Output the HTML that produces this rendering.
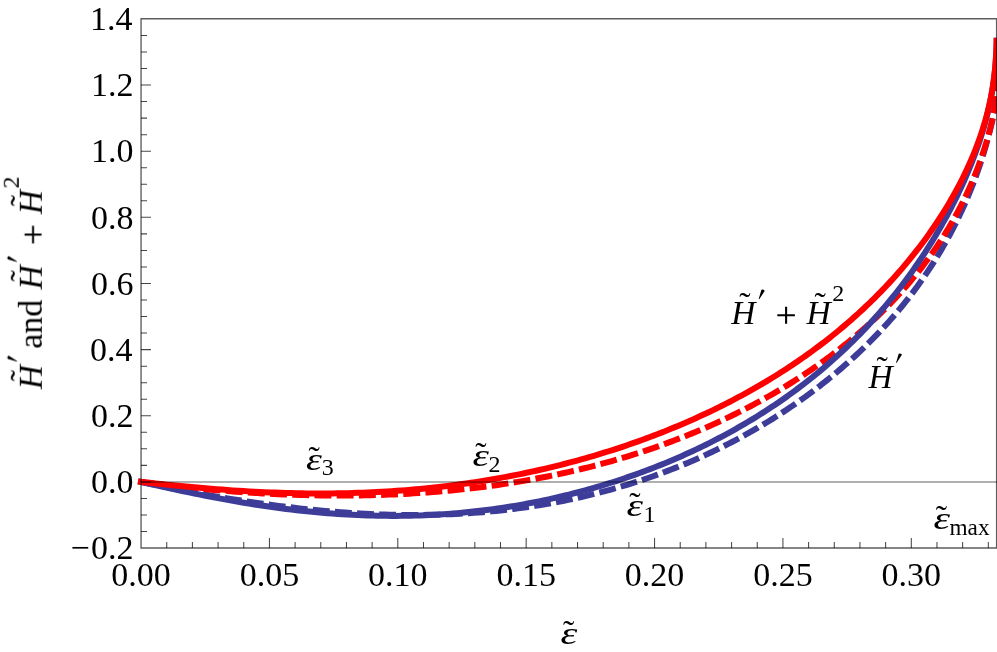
<!DOCTYPE html>
<html><head><meta charset="utf-8"><title>plot</title>
<style>
html,body{margin:0;padding:0;background:#fff;}
body{width:997px;height:652px;overflow:hidden;}
svg{display:block;}
text{font-family:"Liberation Serif",serif;fill:#000;}
.it{font-style:italic;}
</style></head><body>
<svg width="997" height="652" viewBox="0 0 997 652">
<rect x="0" y="0" width="997" height="652" fill="#fff"/>
<defs><clipPath id="cp"><rect x="137" y="18.7" width="860" height="529.25"/></clipPath><clipPath id="cs"><rect x="137" y="37.8" width="860" height="510.15000000000003"/></clipPath></defs>

<g clip-path="url(#cp)" fill="none" stroke-linejoin="round">
<path d="M141.00,481.88 L146.74,483.10 L152.45,484.30 L158.15,485.48 L163.83,486.64 L169.49,487.78 L175.13,488.90 L180.75,490.00 L186.35,491.07 L191.93,492.12 L197.50,493.15 L203.04,494.16 L208.57,495.14 L214.07,496.11 L219.56,497.05 L225.03,497.97 L230.47,498.86 L235.90,499.73 L241.31,500.58 L246.70,501.41 L252.07,502.21 L257.42,502.99 L262.76,503.74 L268.07,504.48 L273.37,505.18 L278.64,505.87 L283.90,506.53 L289.13,507.16 L294.35,507.77 L299.55,508.36 L304.73,508.92 L309.89,509.46 L315.03,509.97 L320.15,510.46 L325.25,510.93 L330.33,511.37 L335.40,511.78 L340.44,512.17 L345.47,512.53 L350.47,512.87 L355.46,513.19 L360.43,513.48 L365.38,513.74 L370.30,513.98 L375.21,514.19 L380.10,514.38 L384.98,514.55 L389.83,514.68 L394.66,514.80 L399.48,514.88 L404.27,514.94 L409.05,514.98 L413.80,514.99 L418.54,514.98 L423.26,514.94 L427.95,514.87 L432.63,514.78 L437.29,514.67 L441.93,514.53 L446.56,514.36 L451.16,514.17 L455.74,513.96 L460.31,513.72 L464.85,513.45 L469.38,513.17 L473.88,512.85 L478.37,512.51 L482.84,512.15 L487.29,511.76 L491.72,511.35 L496.13,510.91 L500.52,510.45 L504.89,509.96 L509.24,509.46 L513.58,508.92 L517.89,508.37 L522.18,507.78 L526.46,507.18 L530.72,506.55 L534.95,505.90 L539.17,505.23 L543.37,504.53 L547.55,503.81 L551.71,503.07 L555.85,502.30 L559.97,501.51 L564.08,500.70 L568.16,499.87 L572.22,499.01 L576.27,498.13 L580.30,497.24 L584.30,496.31 L588.29,495.37 L592.26,494.41 L596.21,493.42 L600.14,492.42 L604.05,491.39 L607.94,490.34 L611.81,489.27 L615.66,488.19 L619.50,487.08 L623.31,485.95 L627.11,484.80 L630.88,483.63 L634.64,482.44 L638.38,481.24 L642.10,480.01 L645.80,478.76 L649.48,477.50 L653.14,476.22 L656.78,474.92 L660.40,473.60 L664.00,472.26 L667.59,470.90 L671.15,469.53 L674.70,468.14 L678.22,466.73 L681.73,465.31 L685.22,463.86 L688.69,462.40 L692.14,460.93 L695.57,459.44 L698.98,457.93 L702.37,456.40 L705.74,454.86 L709.10,453.30 L712.43,451.73 L715.75,450.14 L719.04,448.54 L722.32,446.92 L725.57,445.29 L728.81,443.64 L732.03,441.98 L735.23,440.30 L738.41,438.61 L741.57,436.91 L744.71,435.19 L747.84,433.45 L750.94,431.71 L754.03,429.95 L757.09,428.17 L760.14,426.38 L763.16,424.58 L766.17,422.77 L769.16,420.94 L772.13,419.11 L775.08,417.25 L778.01,415.39 L780.92,413.52 L783.81,411.63 L786.68,409.73 L789.54,407.82 L792.37,405.89 L795.19,403.96 L797.98,402.01 L800.76,400.05 L803.52,398.08 L806.26,396.10 L808.98,394.11 L811.68,392.11 L814.36,390.09 L817.02,388.07 L819.66,386.03 L822.28,383.99 L824.89,381.93 L827.47,379.86 L830.04,377.78 L832.58,375.70 L835.11,373.60 L837.62,371.49 L840.11,369.37 L842.58,367.25 L845.03,365.11 L847.46,362.96 L849.87,360.80 L852.26,358.64 L854.63,356.46 L856.99,354.27 L859.32,352.08 L861.64,349.87 L863.94,347.66 L866.21,345.43 L868.47,343.20 L870.71,340.96 L872.93,338.70 L875.13,336.44 L877.31,334.17 L879.47,331.90 L881.61,329.61 L883.74,327.31 L885.84,325.00 L887.93,322.69 L889.99,320.37 L892.04,318.03 L894.07,315.69 L896.08,313.34 L898.06,310.99 L900.03,308.62 L901.98,306.24 L903.92,303.86 L905.83,301.47 L907.72,299.07 L909.59,296.66 L911.45,294.24 L913.28,291.82 L915.10,289.38 L916.90,286.94 L918.67,284.49 L920.43,282.03 L922.17,279.57 L923.89,277.09 L925.59,274.61 L927.27,272.12 L928.94,269.63 L930.58,267.13 L932.20,264.61 L933.81,262.10 L935.39,259.57 L936.96,257.04 L938.51,254.50 L940.03,251.95 L941.54,249.40 L943.03,246.84 L944.50,244.28 L945.95,241.71 L947.38,239.13 L948.80,236.55 L950.19,233.96 L951.56,231.36 L952.92,228.77 L954.25,226.16 L955.57,223.55 L956.87,220.94 L958.15,218.32 L959.40,215.70 L960.64,213.08 L961.86,210.45 L963.07,207.82 L964.25,205.18 L965.41,202.55 L966.55,199.91 L967.68,197.27 L968.78,194.62 L969.87,191.98 L970.93,189.34 L971.98,186.70 L973.01,184.05 L974.02,181.41 L975.01,178.77 L975.98,176.13 L976.93,173.50 L977.86,170.86 L978.78,168.23 L979.67,165.61 L980.54,162.99 L981.40,160.37 L982.23,157.77 L983.05,155.16 L983.85,152.57 L984.63,149.98 L985.39,147.41 L986.13,144.84 L986.85,142.29 L987.55,139.74 L988.23,137.21 L988.89,134.69 L989.54,132.19 L990.16,129.70 L990.77,127.23 L991.35,124.77 L991.92,122.34 L992.47,119.92 L993.00,117.53 L993.50,115.16 L993.99,112.81 L994.47,110.48 L994.92,108.19 L995.35,105.92 L995.76,103.67 L996.16,101.46 L996.53,99.28 L996.89,97.14 L997.22,95.02 L997.54,92.95 L997.84,90.91 L998.12,88.92 L998.38,86.96 L998.62,85.05 L998.84,83.19 L999.04,81.37 L999.22,79.60 L999.39,77.88 L999.53,76.22 L999.65,74.61 L999.76,73.06 L999.85,71.57 L999.91,70.14 L999.96,68.78 L999.99,67.49 L1000.00,66.26" stroke="#3d3d99" stroke-width="6.0" stroke-dasharray="16.9 5.3" stroke-dashoffset="3.5"/>
<path d="M141.00,481.88 L146.74,482.63 L152.45,483.35 L158.15,484.06 L163.83,484.74 L169.49,485.40 L175.13,486.04 L180.75,486.65 L186.35,487.25 L191.93,487.82 L197.50,488.38 L203.04,488.91 L208.57,489.42 L214.07,489.91 L219.56,490.38 L225.03,490.82 L230.47,491.25 L235.90,491.66 L241.31,492.04 L246.70,492.41 L252.07,492.76 L257.42,493.08 L262.76,493.39 L268.07,493.67 L273.37,493.94 L278.64,494.18 L283.90,494.40 L289.13,494.61 L294.35,494.79 L299.55,494.96 L304.73,495.11 L309.89,495.23 L315.03,495.34 L320.15,495.42 L325.25,495.49 L330.33,495.54 L335.40,495.56 L340.44,495.57 L345.47,495.56 L350.47,495.53 L355.46,495.48 L360.43,495.41 L365.38,495.32 L370.30,495.21 L375.21,495.09 L380.10,494.94 L384.98,494.77 L389.83,494.59 L394.66,494.39 L399.48,494.16 L404.27,493.92 L409.05,493.66 L413.80,493.38 L418.54,493.08 L423.26,492.77 L427.95,492.43 L432.63,492.07 L437.29,491.70 L441.93,491.31 L446.56,490.90 L451.16,490.47 L455.74,490.02 L460.31,489.55 L464.85,489.07 L469.38,488.57 L473.88,488.05 L478.37,487.51 L482.84,486.95 L487.29,486.37 L491.72,485.78 L496.13,485.17 L500.52,484.54 L504.89,483.89 L509.24,483.22 L513.58,482.54 L517.89,481.84 L522.18,481.12 L526.46,480.38 L530.72,479.63 L534.95,478.86 L539.17,478.07 L543.37,477.26 L547.55,476.44 L551.71,475.60 L555.85,474.75 L559.97,473.87 L564.08,472.98 L568.16,472.07 L572.22,471.15 L576.27,470.21 L580.30,469.25 L584.30,468.28 L588.29,467.29 L592.26,466.29 L596.21,465.26 L600.14,464.23 L604.05,463.17 L607.94,462.10 L611.81,461.02 L615.66,459.92 L619.50,458.80 L623.31,457.67 L627.11,456.52 L630.88,455.36 L634.64,454.18 L638.38,452.99 L642.10,451.79 L645.80,450.56 L649.48,449.33 L653.14,448.08 L656.78,446.81 L660.40,445.53 L664.00,444.24 L667.59,442.93 L671.15,441.61 L674.70,440.27 L678.22,438.92 L681.73,437.56 L685.22,436.18 L688.69,434.79 L692.14,433.39 L695.57,431.97 L698.98,430.55 L702.37,429.10 L705.74,427.65 L709.10,426.18 L712.43,424.70 L715.75,423.21 L719.04,421.70 L722.32,420.18 L725.57,418.65 L728.81,417.11 L732.03,415.56 L735.23,413.99 L738.41,412.41 L741.57,410.82 L744.71,409.22 L747.84,407.61 L750.94,405.98 L754.03,404.35 L757.09,402.70 L760.14,401.05 L763.16,399.38 L766.17,397.70 L769.16,396.01 L772.13,394.31 L775.08,392.60 L778.01,390.88 L780.92,389.15 L783.81,387.40 L786.68,385.65 L789.54,383.89 L792.37,382.12 L795.19,380.33 L797.98,378.54 L800.76,376.74 L803.52,374.93 L806.26,373.11 L808.98,371.28 L811.68,369.44 L814.36,367.59 L817.02,365.73 L819.66,363.86 L822.28,361.99 L824.89,360.10 L827.47,358.21 L830.04,356.30 L832.58,354.39 L835.11,352.47 L837.62,350.54 L840.11,348.60 L842.58,346.66 L845.03,344.70 L847.46,342.74 L849.87,340.76 L852.26,338.78 L854.63,336.79 L856.99,334.80 L859.32,332.79 L861.64,330.78 L863.94,328.76 L866.21,326.73 L868.47,324.69 L870.71,322.64 L872.93,320.59 L875.13,318.53 L877.31,316.46 L879.47,314.38 L881.61,312.30 L883.74,310.20 L885.84,308.10 L887.93,305.99 L889.99,303.88 L892.04,301.76 L894.07,299.63 L896.08,297.49 L898.06,295.34 L900.03,293.19 L901.98,291.03 L903.92,288.86 L905.83,286.69 L907.72,284.50 L909.59,282.31 L911.45,280.12 L913.28,277.91 L915.10,275.70 L916.90,273.48 L918.67,271.26 L920.43,269.03 L922.17,266.79 L923.89,264.54 L925.59,262.29 L927.27,260.03 L928.94,257.76 L930.58,255.49 L932.20,253.21 L933.81,250.92 L935.39,248.63 L936.96,246.33 L938.51,244.03 L940.03,241.71 L941.54,239.40 L943.03,237.07 L944.50,234.74 L945.95,232.40 L947.38,230.06 L948.80,227.71 L950.19,225.36 L951.56,223.00 L952.92,220.63 L954.25,218.26 L955.57,215.89 L956.87,213.50 L958.15,211.12 L959.40,208.73 L960.64,206.33 L961.86,203.93 L963.07,201.52 L964.25,199.11 L965.41,196.70 L966.55,194.28 L967.68,191.86 L968.78,189.44 L969.87,187.01 L970.93,184.58 L971.98,182.14 L973.01,179.71 L974.02,177.27 L975.01,174.83 L975.98,172.38 L976.93,169.94 L977.86,167.49 L978.78,165.04 L979.67,162.60 L980.54,160.15 L981.40,157.70 L982.23,155.25 L983.05,152.81 L983.85,150.36 L984.63,147.91 L985.39,145.47 L986.13,143.03 L986.85,140.60 L987.55,138.16 L988.23,135.73 L988.89,133.31 L989.54,130.89 L990.16,128.47 L990.77,126.06 L991.35,123.66 L991.92,121.26 L992.47,118.88 L993.00,116.50 L993.50,114.13 L993.99,111.77 L994.47,109.42 L994.92,107.08 L995.35,104.75 L995.76,102.44 L996.16,100.14 L996.53,97.85 L996.89,95.58 L997.22,93.33 L997.54,91.09 L997.84,88.87 L998.12,86.67 L998.38,84.49 L998.62,82.34 L998.84,80.20 L999.04,78.09 L999.22,76.00 L999.39,73.94 L999.53,71.90 L999.65,69.89 L999.76,67.91 L999.85,65.97 L999.91,64.05 L999.96,62.17 L999.99,60.32 L1000.00,58.51" stroke="#ff0000" stroke-width="6.0" stroke-dasharray="16.9 5.3" stroke-dashoffset="3.5"/>
<g clip-path="url(#cs)">
<path d="M138.00,481.21 L143.73,482.52 L149.45,483.81 L155.14,485.09 L160.82,486.35 L166.48,487.60 L172.12,488.82 L177.74,490.03 L183.34,491.21 L188.92,492.38 L194.48,493.52 L200.02,494.64 L205.54,495.73 L211.05,496.80 L216.53,497.85 L222.00,498.87 L227.44,499.86 L232.87,500.83 L238.28,501.77 L243.67,502.68 L249.03,503.56 L254.38,504.42 L259.72,505.24 L265.03,506.04 L270.32,506.80 L275.59,507.54 L280.85,508.24 L286.08,508.92 L291.30,509.56 L296.49,510.17 L301.67,510.76 L306.83,511.31 L311.97,511.83 L317.09,512.32 L322.19,512.77 L327.27,513.20 L332.33,513.59 L337.37,513.96 L342.40,514.29 L347.40,514.59 L352.38,514.86 L357.35,515.09 L362.30,515.30 L367.22,515.48 L372.13,515.62 L377.02,515.74 L381.89,515.82 L386.74,515.87 L391.57,515.90 L396.39,515.89 L401.18,515.85 L405.95,515.78 L410.71,515.69 L415.44,515.56 L420.16,515.41 L424.85,515.22 L429.53,515.01 L434.19,514.77 L438.83,514.50 L443.45,514.20 L448.05,513.87 L452.63,513.52 L457.19,513.14 L461.74,512.73 L466.26,512.30 L470.77,511.84 L475.25,511.35 L479.72,510.84 L484.17,510.30 L488.59,509.74 L493.00,509.15 L497.39,508.54 L501.76,507.90 L506.11,507.24 L510.44,506.55 L514.76,505.84 L519.05,505.10 L523.33,504.35 L527.58,503.57 L531.82,502.76 L536.03,501.94 L540.23,501.09 L544.41,500.22 L548.57,499.32 L552.71,498.41 L556.83,497.47 L560.93,496.52 L565.01,495.54 L569.07,494.54 L573.12,493.52 L577.14,492.48 L581.15,491.42 L585.13,490.34 L589.10,489.24 L593.05,488.12 L596.98,486.99 L600.89,485.83 L604.78,484.65 L608.65,483.46 L612.50,482.25 L616.33,481.02 L620.14,479.77 L623.94,478.50 L627.71,477.21 L631.47,475.91 L635.20,474.59 L638.92,473.25 L642.62,471.90 L646.30,470.53 L649.96,469.14 L653.60,467.73 L657.22,466.31 L660.82,464.87 L664.40,463.42 L667.97,461.95 L671.51,460.46 L675.04,458.95 L678.54,457.43 L682.03,455.90 L685.50,454.35 L688.94,452.78 L692.37,451.20 L695.78,449.60 L699.17,447.99 L702.55,446.36 L705.90,444.72 L709.23,443.06 L712.54,441.39 L715.84,439.70 L719.11,438.00 L722.37,436.28 L725.61,434.55 L728.83,432.80 L732.02,431.04 L735.20,429.26 L738.36,427.47 L741.50,425.67 L744.63,423.85 L747.73,422.02 L750.81,420.17 L753.88,418.31 L756.92,416.43 L759.95,414.54 L762.95,412.64 L765.94,410.73 L768.91,408.80 L771.86,406.85 L774.79,404.90 L777.70,402.92 L780.59,400.94 L783.46,398.94 L786.31,396.93 L789.14,394.91 L791.96,392.87 L794.75,390.82 L797.53,388.76 L800.29,386.69 L803.02,384.60 L805.74,382.50 L808.44,380.38 L811.12,378.26 L813.78,376.12 L816.42,373.97 L819.05,371.81 L821.65,369.63 L824.23,367.44 L826.80,365.25 L829.34,363.04 L831.87,360.81 L834.37,358.58 L836.86,356.34 L839.33,354.08 L841.78,351.81 L844.21,349.54 L846.62,347.25 L849.01,344.95 L851.39,342.64 L853.74,340.32 L856.07,337.99 L858.39,335.65 L860.68,333.30 L862.96,330.94 L865.22,328.57 L867.45,326.19 L869.67,323.80 L871.87,321.40 L874.05,319.00 L876.21,316.58 L878.36,314.16 L880.48,311.73 L882.58,309.29 L884.67,306.84 L886.73,304.39 L888.78,301.93 L890.80,299.46 L892.81,296.99 L894.80,294.50 L896.77,292.01 L898.72,289.52 L900.65,287.02 L902.56,284.51 L904.45,282.00 L906.33,279.49 L908.18,276.97 L910.01,274.44 L911.83,271.91 L913.63,269.37 L915.40,266.84 L917.16,264.30 L918.90,261.75 L920.62,259.20 L922.32,256.65 L924.00,254.10 L925.66,251.54 L927.30,248.99 L928.93,246.43 L930.53,243.87 L932.12,241.31 L933.68,238.74 L935.23,236.18 L936.75,233.62 L938.26,231.05 L939.75,228.49 L941.22,225.93 L942.67,223.37 L944.10,220.81 L945.51,218.25 L946.91,215.69 L948.28,213.13 L949.64,210.58 L950.97,208.03 L952.29,205.48 L953.58,202.93 L954.86,200.39 L956.12,197.85 L957.36,195.31 L958.58,192.78 L959.78,190.25 L960.96,187.72 L962.12,185.20 L963.26,182.68 L964.39,180.16 L965.49,177.65 L966.58,175.15 L967.64,172.64 L968.69,170.15 L969.72,167.65 L970.73,165.16 L971.72,162.68 L972.69,160.20 L973.64,157.73 L974.57,155.26 L975.48,152.79 L976.38,150.33 L977.25,147.87 L978.10,145.41 L978.94,142.96 L979.76,140.52 L980.55,138.07 L981.33,135.63 L982.09,133.20 L982.83,130.76 L983.55,128.33 L984.25,125.90 L984.93,123.47 L985.60,121.04 L986.24,118.61 L986.86,116.18 L987.47,113.75 L988.06,111.32 L988.62,108.89 L989.17,106.45 L989.70,104.01 L990.21,101.57 L990.70,99.12 L991.17,96.67 L991.62,94.21 L992.05,91.74 L992.46,89.26 L992.86,86.77 L993.23,84.27 L993.59,81.76 L993.92,79.23 L994.24,76.69 L994.54,74.14 L994.82,71.56 L995.08,68.97 L995.32,66.35 L995.54,63.72 L995.74,61.06 L995.92,58.37 L996.09,55.65 L996.23,52.91 L996.35,50.13 L996.46,47.32 L996.55,44.47 L996.61,41.59 L996.66,38.66 L996.69,35.69 L996.70,32.68 L996.70,35.50" stroke="#3d3d99" stroke-width="6.0"/>
<path d="M138.00,481.56 L143.73,482.20 L149.45,482.83 L155.14,483.45 L160.82,484.05 L166.48,484.64 L172.12,485.21 L177.74,485.77 L183.34,486.31 L188.92,486.84 L194.48,487.34 L200.02,487.83 L205.54,488.30 L211.05,488.75 L216.53,489.19 L222.00,489.60 L227.44,489.99 L232.87,490.37 L238.28,490.72 L243.67,491.05 L249.03,491.37 L254.38,491.66 L259.72,491.93 L265.03,492.18 L270.32,492.40 L275.59,492.61 L280.85,492.79 L286.08,492.95 L291.30,493.09 L296.49,493.21 L301.67,493.30 L306.83,493.38 L311.97,493.43 L317.09,493.45 L322.19,493.46 L327.27,493.44 L332.33,493.40 L337.37,493.34 L342.40,493.25 L347.40,493.15 L352.38,493.02 L357.35,492.87 L362.30,492.69 L367.22,492.50 L372.13,492.28 L377.02,492.04 L381.89,491.77 L386.74,491.49 L391.57,491.18 L396.39,490.86 L401.18,490.51 L405.95,490.14 L410.71,489.75 L415.44,489.33 L420.16,488.90 L424.85,488.44 L429.53,487.97 L434.19,487.47 L438.83,486.96 L443.45,486.42 L448.05,485.86 L452.63,485.28 L457.19,484.69 L461.74,484.07 L466.26,483.43 L470.77,482.78 L475.25,482.10 L479.72,481.41 L484.17,480.69 L488.59,479.96 L493.00,479.21 L497.39,478.44 L501.76,477.65 L506.11,476.85 L510.44,476.02 L514.76,475.18 L519.05,474.32 L523.33,473.45 L527.58,472.55 L531.82,471.64 L536.03,470.71 L540.23,469.77 L544.41,468.81 L548.57,467.83 L552.71,466.83 L556.83,465.82 L560.93,464.79 L565.01,463.75 L569.07,462.69 L573.12,461.62 L577.14,460.53 L581.15,459.42 L585.13,458.30 L589.10,457.16 L593.05,456.01 L596.98,454.85 L600.89,453.67 L604.78,452.47 L608.65,451.26 L612.50,450.03 L616.33,448.80 L620.14,447.54 L623.94,446.28 L627.71,444.99 L631.47,443.70 L635.20,442.39 L638.92,441.07 L642.62,439.73 L646.30,438.38 L649.96,437.02 L653.60,435.65 L657.22,434.26 L660.82,432.86 L664.40,431.44 L667.97,430.01 L671.51,428.57 L675.04,427.12 L678.54,425.66 L682.03,424.18 L685.50,422.69 L688.94,421.18 L692.37,419.67 L695.78,418.14 L699.17,416.60 L702.55,415.05 L705.90,413.49 L709.23,411.92 L712.54,410.33 L715.84,408.73 L719.11,407.12 L722.37,405.50 L725.61,403.87 L728.83,402.22 L732.02,400.57 L735.20,398.90 L738.36,397.22 L741.50,395.53 L744.63,393.83 L747.73,392.12 L750.81,390.40 L753.88,388.67 L756.92,386.92 L759.95,385.17 L762.95,383.40 L765.94,381.63 L768.91,379.84 L771.86,378.04 L774.79,376.24 L777.70,374.42 L780.59,372.59 L783.46,370.75 L786.31,368.90 L789.14,367.05 L791.96,365.18 L794.75,363.30 L797.53,361.41 L800.29,359.51 L803.02,357.61 L805.74,355.69 L808.44,353.77 L811.12,351.83 L813.78,349.88 L816.42,347.93 L819.05,345.97 L821.65,344.00 L824.23,342.01 L826.80,340.02 L829.34,338.03 L831.87,336.02 L834.37,334.00 L836.86,331.98 L839.33,329.94 L841.78,327.90 L844.21,325.85 L846.62,323.80 L849.01,321.73 L851.39,319.66 L853.74,317.58 L856.07,315.49 L858.39,313.39 L860.68,311.29 L862.96,309.18 L865.22,307.06 L867.45,304.94 L869.67,302.81 L871.87,300.67 L874.05,298.53 L876.21,296.38 L878.36,294.22 L880.48,292.05 L882.58,289.88 L884.67,287.71 L886.73,285.53 L888.78,283.34 L890.80,281.15 L892.81,278.95 L894.80,276.75 L896.77,274.54 L898.72,272.33 L900.65,270.11 L902.56,267.89 L904.45,265.66 L906.33,263.43 L908.18,261.20 L910.01,258.96 L911.83,256.72 L913.63,254.47 L915.40,252.22 L917.16,249.97 L918.90,247.72 L920.62,245.46 L922.32,243.20 L924.00,240.93 L925.66,238.67 L927.30,236.40 L928.93,234.12 L930.53,231.85 L932.12,229.58 L933.68,227.30 L935.23,225.02 L936.75,222.74 L938.26,220.46 L939.75,218.17 L941.22,215.89 L942.67,213.60 L944.10,211.32 L945.51,209.03 L946.91,206.74 L948.28,204.45 L949.64,202.16 L950.97,199.87 L952.29,197.58 L953.58,195.29 L954.86,193.00 L956.12,190.71 L957.36,188.42 L958.58,186.13 L959.78,183.84 L960.96,181.55 L962.12,179.26 L963.26,176.97 L964.39,174.68 L965.49,172.39 L966.58,170.10 L967.64,167.81 L968.69,165.52 L969.72,163.23 L970.73,160.94 L971.72,158.65 L972.69,156.36 L973.64,154.07 L974.57,151.78 L975.48,149.49 L976.38,147.19 L977.25,144.90 L978.10,142.60 L978.94,140.31 L979.76,138.01 L980.55,135.71 L981.33,133.40 L982.09,131.10 L982.83,128.79 L983.55,126.48 L984.25,124.16 L984.93,121.84 L985.60,119.52 L986.24,117.19 L986.86,114.85 L987.47,112.51 L988.06,110.17 L988.62,107.81 L989.17,105.45 L989.70,103.08 L990.21,100.71 L990.70,98.32 L991.17,95.92 L991.62,93.51 L992.05,91.09 L992.46,88.66 L992.86,86.21 L993.23,83.75 L993.59,81.28 L993.92,78.79 L994.24,76.28 L994.54,73.75 L994.82,71.20 L995.08,68.64 L995.32,66.05 L995.54,63.44 L995.74,60.80 L995.92,58.14 L996.09,55.45 L996.23,52.74 L996.35,49.99 L996.46,47.21 L996.55,44.40 L996.61,41.56 L996.66,38.68 L996.69,35.76 L996.70,32.80 L996.70,35.50" stroke="#ff0000" stroke-width="6.0"/>
</g>
</g>
<g stroke="#000" stroke-opacity="0.42" stroke-width="1.5" fill="none"><path d="M141.05,481.9 H997"/></g>
<g stroke="#000" stroke-opacity="0.64" stroke-width="1.35" fill="none">
<path d="M141.05,18.7 H996.6 V547.95 H141.05 Z"/>
</g>
<g stroke="#000" stroke-opacity="0.72" stroke-width="1.05" fill="none">
<path d="M166.73,547.95 v-6.0 M192.40,547.95 v-6.0 M218.07,547.95 v-6.0 M243.75,547.95 v-6.0 M269.43,547.95 v-9.9 M295.10,547.95 v-6.0 M320.78,547.95 v-6.0 M346.45,547.95 v-6.0 M372.12,547.95 v-6.0 M397.80,547.95 v-9.9 M423.48,547.95 v-6.0 M449.15,547.95 v-6.0 M474.83,547.95 v-6.0 M500.50,547.95 v-6.0 M526.17,547.95 v-9.9 M551.85,547.95 v-6.0 M577.53,547.95 v-6.0 M603.20,547.95 v-6.0 M628.88,547.95 v-6.0 M654.55,547.95 v-9.9 M680.22,547.95 v-6.0 M705.90,547.95 v-6.0 M731.58,547.95 v-6.0 M757.25,547.95 v-6.0 M782.92,547.95 v-9.9 M808.60,547.95 v-6.0 M834.28,547.95 v-6.0 M859.95,547.95 v-6.0 M885.62,547.95 v-6.0 M911.30,547.95 v-9.9 M936.97,547.95 v-6.0 M962.65,547.95 v-6.0 M988.33,547.95 v-6.0 M141.05,531.51 h6.0 M141.05,514.97 h6.0 M141.05,498.44 h6.0 M141.05,481.90 h9.9 M141.05,465.36 h6.0 M141.05,448.83 h6.0 M141.05,432.29 h6.0 M141.05,415.76 h9.9 M141.05,399.22 h6.0 M141.05,382.69 h6.0 M141.05,366.15 h6.0 M141.05,349.61 h9.9 M141.05,333.08 h6.0 M141.05,316.54 h6.0 M141.05,300.01 h6.0 M141.05,283.47 h9.9 M141.05,266.94 h6.0 M141.05,250.40 h6.0 M141.05,233.86 h6.0 M141.05,217.33 h9.9 M141.05,200.79 h6.0 M141.05,184.26 h6.0 M141.05,167.72 h6.0 M141.05,151.19 h9.9 M141.05,134.65 h6.0 M141.05,118.11 h6.0 M141.05,101.58 h6.0 M141.05,85.04 h9.9 M141.05,68.51 h6.0 M141.05,51.97 h6.0 M141.05,35.44 h6.0"/>
</g>
<g opacity="0.999"><g font-size="34">
<text x="141.05" y="586.2" text-anchor="middle">0.00</text>
<text x="269.43" y="586.2" text-anchor="middle">0.05</text>
<text x="397.80" y="586.2" text-anchor="middle">0.10</text>
<text x="526.18" y="586.2" text-anchor="middle">0.15</text>
<text x="654.55" y="586.2" text-anchor="middle">0.20</text>
<text x="782.92" y="586.2" text-anchor="middle">0.25</text>
<text x="911.30" y="586.2" text-anchor="middle">0.30</text>
<text x="70.6" y="559.24">−</text>
<text x="133.4" y="559.24" text-anchor="end">0.2</text>
<text x="133.4" y="493.10" text-anchor="end">0.0</text>
<text x="133.4" y="426.96" text-anchor="end">0.2</text>
<text x="132.6" y="360.81" text-anchor="end">0.4</text>
<text x="133.4" y="294.67" text-anchor="end">0.6</text>
<text x="133.4" y="228.53" text-anchor="end">0.8</text>
<text x="133.4" y="162.39" text-anchor="end">1.0</text>
<text x="133.4" y="96.24" text-anchor="end">1.2</text>
<text x="132.6" y="30.10" text-anchor="end">1.4</text>
</g>
<text x="731.14" y="323.90" font-size="33.6" font-style="italic">H</text>
<text x="739.16" y="315.86" font-size="34">˜</text>
<path d="M761.40,289.80 L762.60,289.50 L764.20,290.00 L764.60,290.90 L759.30,299.20 L758.70,299.00 Z" fill="#000"/>
<path d="M777.30,315.20 h17.6 M786.10,306.70 v17" stroke="#000" stroke-width="2.1" fill="none"/>
<text x="806.54" y="323.90" font-size="33.6" font-style="italic">H</text>
<text x="814.56" y="315.86" font-size="34">˜</text>
<text x="832.24" y="300.70" font-size="24">2</text>
<text x="868.44" y="387.80" font-size="33.6" font-style="italic">H</text>
<text x="876.46" y="379.76" font-size="34">˜</text>
<path d="M898.70,353.70 L899.90,353.40 L901.50,353.90 L901.90,354.80 L896.60,363.10 L896.00,362.90 Z" fill="#000"/>
<text transform="translate(306.09 470.38) scale(1.239 1)" font-size="32.5" font-style="italic">ε</text>
<text x="308.46" y="469.86" font-size="34">˜</text>
<text x="321.80" y="475.06" font-size="24">3</text>
<text transform="translate(472.57 466.48) scale(1.281 1)" font-size="32.5" font-style="italic">ε</text>
<text x="475.26" y="466.16" font-size="34">˜</text>
<text x="488.54" y="471.80" font-size="24">2</text>
<text transform="translate(626.46 515.97) scale(1.289 1)" font-size="32.5" font-style="italic">ε</text>
<text x="629.26" y="515.66" font-size="34">˜</text>
<text x="643.54" y="521.70" font-size="24">1</text>
<text transform="translate(933.56 528.77) scale(1.289 1)" font-size="32.5" font-style="italic">ε</text>
<text x="935.76" y="529.16" font-size="34">˜</text>
<text x="949.43" y="534.67" font-size="23.3">max</text>
<text transform="translate(560.45 643.88) scale(1.314 1)" font-size="32.5" font-style="italic">ε</text>
<text x="562.96" y="643.96" font-size="34">˜</text>
<g transform="translate(41.8 389.5) rotate(-90)"><text x="0.34" y="0.00" font-size="33.6" font-style="italic">H</text><text x="8.36" y="-7.54" font-size="34">˜</text><path d="M30.60,-34.10 L31.80,-34.40 L33.40,-33.90 L33.80,-33.00 L28.50,-24.70 L27.90,-24.90 Z" fill="#000"/><text x="40.74" y="-0.04" font-size="34">and</text><text x="99.94" y="0.00" font-size="33.6" font-style="italic">H</text><text x="107.96" y="-7.54" font-size="34">˜</text><path d="M130.20,-34.10 L131.40,-34.40 L133.00,-33.90 L133.40,-33.00 L128.10,-24.70 L127.50,-24.90 Z" fill="#000"/><path d="M146.10,-8.70 h17.6 M154.90,-17.20 v17" stroke="#000" stroke-width="2.1" fill="none"/><text x="175.34" y="0.00" font-size="33.6" font-style="italic">H</text><text x="183.36" y="-7.54" font-size="34">˜</text><text x="201.04" y="-23.20" font-size="24">2</text></g></g>
</svg></body></html>
